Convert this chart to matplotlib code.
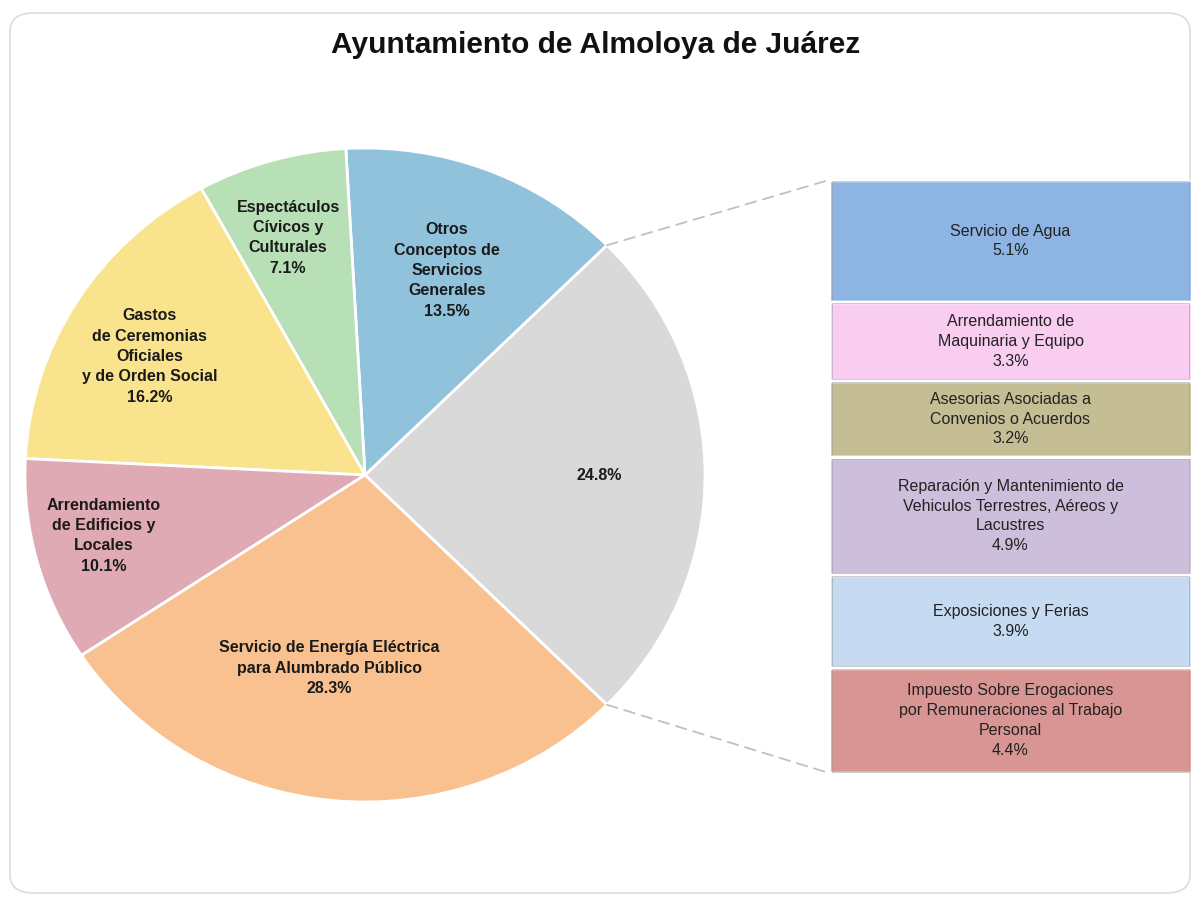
import numpy as np
import matplotlib.pyplot as plt
from matplotlib.patches import FancyBboxPatch, ConnectionPatch

# Pie slices (counter-clockwise, starting with the grouped "others" slice)
pie_labels = ['', 'Otros\nConceptos de\nServicios\nGenerales',
              'Espectáculos\nCívicos y\nCulturales',
              'Gastos\nde Ceremonias\nOficiales\ny de Orden Social',
              'Arrendamiento\nde Edificios y\nLocales',
              'Servicio de Energía Eléctrica\npara Alumbrado Público']
pie_values = [24.8, 13.5, 7.1, 16.2, 10.1, 28.3]
pie_colors = ['#d9d9d9', '#91c2dc', '#b8e0b6', '#fae38d', '#dfaab3', '#f9c190']

# Breakdown of the grey slice (top to bottom)
bar_labels = ['Servicio de Agua', 'Arrendamiento de\nMaquinaria y Equipo',
              'Asesorias Asociadas a\nConvenios o Acuerdos',
              'Reparación y Mantenimiento de\nVehiculos Terrestres, Aéreos y\nLacustres',
              'Exposiciones y Ferias',
              'Impuesto Sobre Erogaciones\npor Remuneraciones al Trabajo\nPersonal']
bar_values = [5.1, 3.3, 3.2, 4.9, 3.9, 4.4]
bar_colors = ['#8db4e2', '#f9cdf0', '#c5be94', '#cdbfdc', '#c6daf1', '#d99593']

narrow = ['Liberation Sans Narrow', 'Liberation Sans', 'DejaVu Sans']

fig = plt.figure(figsize=(11.96, 9.05), dpi=100)
W, H = 1196, 905

# outer frame
frame = FancyBboxPatch((10 / W, 12 / H), 1180 / W, 880 / H,
                       boxstyle='round,pad=0,rounding_size=0.02',
                       transform=fig.transFigure, facecolor='none',
                       edgecolor='#dcdcdc', linewidth=1.2, zorder=-1)
fig.patches.append(frame)

fig.text(596 / W, 1 - 45 / H, 'Ayuntamiento de Almoloya de Juárez',
         ha='center', va='center', fontsize=21.5, fontweight='bold',
         family=['Liberation Sans', 'DejaVu Sans'], color='#111111')

# pie (slightly flattened, like the original)
cx, cy, RX, RY = 365, 475, 340, 327
ax = fig.add_axes([(cx - RX) / W, (H - cy - RY) / H, 2 * RX / W, 2 * RY / H])
start = -pie_values[0] / 100 * 360 / 2
wedges, _ = ax.pie(pie_values, colors=pie_colors, startangle=start,
                   counterclock=True, radius=1,
                   wedgeprops=dict(edgecolor='white', linewidth=2))
ax.set_xlim(-1, 1)
ax.set_ylim(-1, 1)
ax.set_aspect('auto')
ax.axis('off')

# label distances from centre (fraction of radius) and angle tweaks
label_r = [0.69, 0.67, 0.76, 0.73, 0.79, 0.60]
label_shift = [0, 0, 1.3, 2.3, -1.7, -4.5]
for w, lab, val, r, sh in zip(wedges, pie_labels, pie_values, label_r, label_shift):
    ang = np.deg2rad((w.theta1 + w.theta2) / 2 + sh)
    txt = f'{lab}\n{val}%' if lab else f'{val}%'
    ax.text(r * np.cos(ang), r * np.sin(ang), txt, ha='center', va='center',
            fontsize=11.5, fontweight='bold', family=narrow, color='#1a1a1a',
            linespacing=1.45)

# stacked bar for the grey slice
bx0, bx1, by0, by1 = 829, 1192, 180, 773
bax = fig.add_axes([bx0 / W, (H - by1) / H, (bx1 - bx0) / W, (by1 - by0) / H])
bottom = 0
for lab, val, col in zip(bar_labels, bar_values, bar_colors):
    bax.bar(0, val, bottom=bottom, width=1, color=col, edgecolor='white',
            linewidth=2.5)
    bax.bar(0, val - 0.12, bottom=bottom + 0.06, width=0.985, color='none',
            edgecolor='#9a9a9a', linewidth=0.6, alpha=0.6)
    bax.text(0, bottom + val / 2, f'{lab}\n{val}%', ha='center', va='center',
             fontsize=11.5, family=narrow, color='#222222', linespacing=1.4)
    bottom += val
bax.set_xlim(-0.5, 0.5)
bax.set_ylim(sum(bar_values), 0)
bax.axis('off')

# connector lines
a1 = np.deg2rad(wedges[0].theta2)
a0 = np.deg2rad(wedges[0].theta1)
for ang, yb in [(a1, 0), (a0, sum(bar_values))]:
    con = ConnectionPatch(xyA=(np.cos(ang), np.sin(ang)), coordsA=ax.transData,
                          xyB=(-0.5, yb), coordsB=bax.transData,
                          color='#c0c0c0', linestyle=(0, (6, 4)), linewidth=1.3)
    fig.add_artist(con)

plt.savefig('out.png', dpi=100)
